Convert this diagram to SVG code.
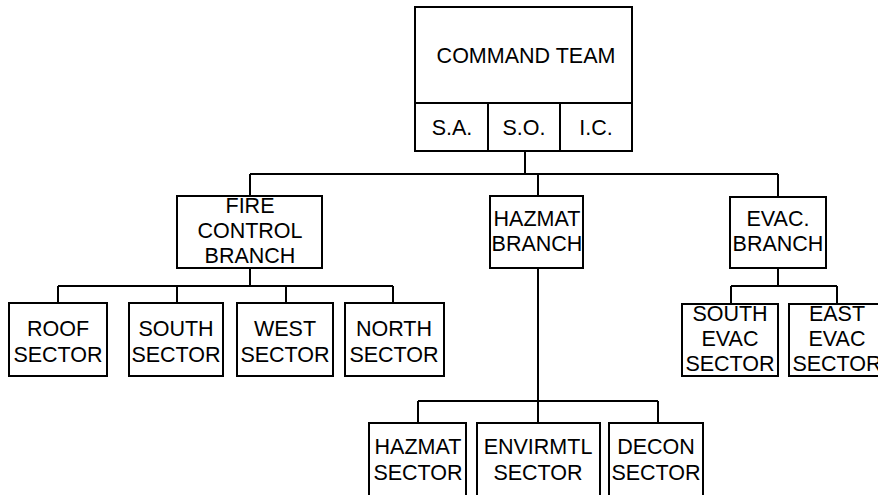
<svg xmlns="http://www.w3.org/2000/svg" width="878" height="495" viewBox="0 0 878 495">
<style>
rect{fill:#fff;stroke:#000;stroke-width:2}
line,path{stroke:#000;stroke-width:2;fill:none}
text{font-family:"Liberation Sans",Arial,sans-serif;font-size:21.5px;fill:#000;text-anchor:middle}
</style>
<rect x="0" y="0" width="878" height="495" style="stroke:none"/>
<g id="connectors">
<line x1="525" y1="151" x2="525" y2="174"/>
<line x1="250" y1="174" x2="778" y2="174"/>
<line x1="250" y1="174" x2="250" y2="196"/>
<line x1="538" y1="174" x2="538" y2="196"/>
<line x1="778" y1="174" x2="778" y2="197"/>
<line x1="250" y1="268" x2="250" y2="286"/>
<line x1="58" y1="286" x2="393" y2="286"/>
<line x1="58" y1="286" x2="58" y2="303"/>
<line x1="177" y1="286" x2="177" y2="303"/>
<line x1="286" y1="286" x2="286" y2="303"/>
<line x1="393" y1="286" x2="393" y2="303"/>
<line x1="538" y1="268" x2="538" y2="401"/>
<line x1="418" y1="401" x2="658" y2="401"/>
<line x1="418" y1="401" x2="418" y2="423"/>
<line x1="538" y1="401" x2="538" y2="423"/>
<line x1="658" y1="401" x2="658" y2="423"/>
<line x1="778" y1="268" x2="778" y2="286"/>
<line x1="731" y1="286" x2="837" y2="286"/>
<line x1="731" y1="286" x2="731" y2="304"/>
<line x1="837" y1="286" x2="837" y2="304"/>
</g>
<g id="command-team">
<rect x="415" y="7" width="217" height="144"/>
<line x1="415" y1="103" x2="632" y2="103"/>
<line x1="488" y1="103" x2="488" y2="151"/>
<line x1="560" y1="103" x2="560" y2="151"/>
<text x="526" y="63">COMMAND TEAM</text>
<text x="452" y="135">S.A.</text>
<text x="524" y="135">S.O.</text>
<text x="596" y="135">I.C.</text>
</g>
<g id="fire-control-branch">
<rect x="177" y="196" width="145" height="72"/>
<text x="250" y="213">FIRE</text>
<text x="250" y="238">CONTROL</text>
<text x="250" y="263">BRANCH</text>
</g>
<g id="hazmat-branch">
<rect x="490" y="196" width="93" height="72"/>
<text x="537" y="226">HAZMAT</text>
<text x="537" y="251">BRANCH</text>
</g>
<g id="evac-branch">
<rect x="730" y="197" width="96" height="71"/>
<text x="778" y="226">EVAC.</text>
<text x="778" y="251">BRANCH</text>
</g>
<g id="roof-sector">
<rect x="9" y="303" width="98" height="73"/>
<text x="58" y="336">ROOF</text>
<text x="58" y="362">SECTOR</text>
</g>
<g id="south-sector">
<rect x="129" y="303" width="94" height="73"/>
<text x="176" y="336">SOUTH</text>
<text x="176" y="362">SECTOR</text>
</g>
<g id="west-sector">
<rect x="237" y="303" width="96" height="73"/>
<text x="285" y="336">WEST</text>
<text x="285" y="362">SECTOR</text>
</g>
<g id="north-sector">
<rect x="345" y="303" width="99" height="73"/>
<text x="394" y="336">NORTH</text>
<text x="394" y="362">SECTOR</text>
</g>
<g id="south-evac-sector">
<rect x="682" y="304" width="96" height="72"/>
<text x="730" y="321">SOUTH</text>
<text x="730" y="346">EVAC</text>
<text x="730" y="371">SECTOR</text>
</g>
<g id="east-evac-sector">
<rect x="789" y="304" width="96" height="72"/>
<text x="837" y="321">EAST</text>
<text x="837" y="346">EVAC</text>
<text x="837" y="371">SECTOR</text>
</g>
<g id="hazmat-sector">
<rect x="369" y="423" width="97" height="80"/>
<text x="418" y="454">HAZMAT</text>
<text x="418" y="480">SECTOR</text>
</g>
<g id="envirmtl-sector">
<rect x="477" y="423" width="123" height="80"/>
<text x="538" y="454">ENVIRMTL</text>
<text x="538" y="480">SECTOR</text>
</g>
<g id="decon-sector">
<rect x="609" y="423" width="94" height="80"/>
<text x="656" y="454">DECON</text>
<text x="656" y="480">SECTOR</text>
</g>
</svg>
